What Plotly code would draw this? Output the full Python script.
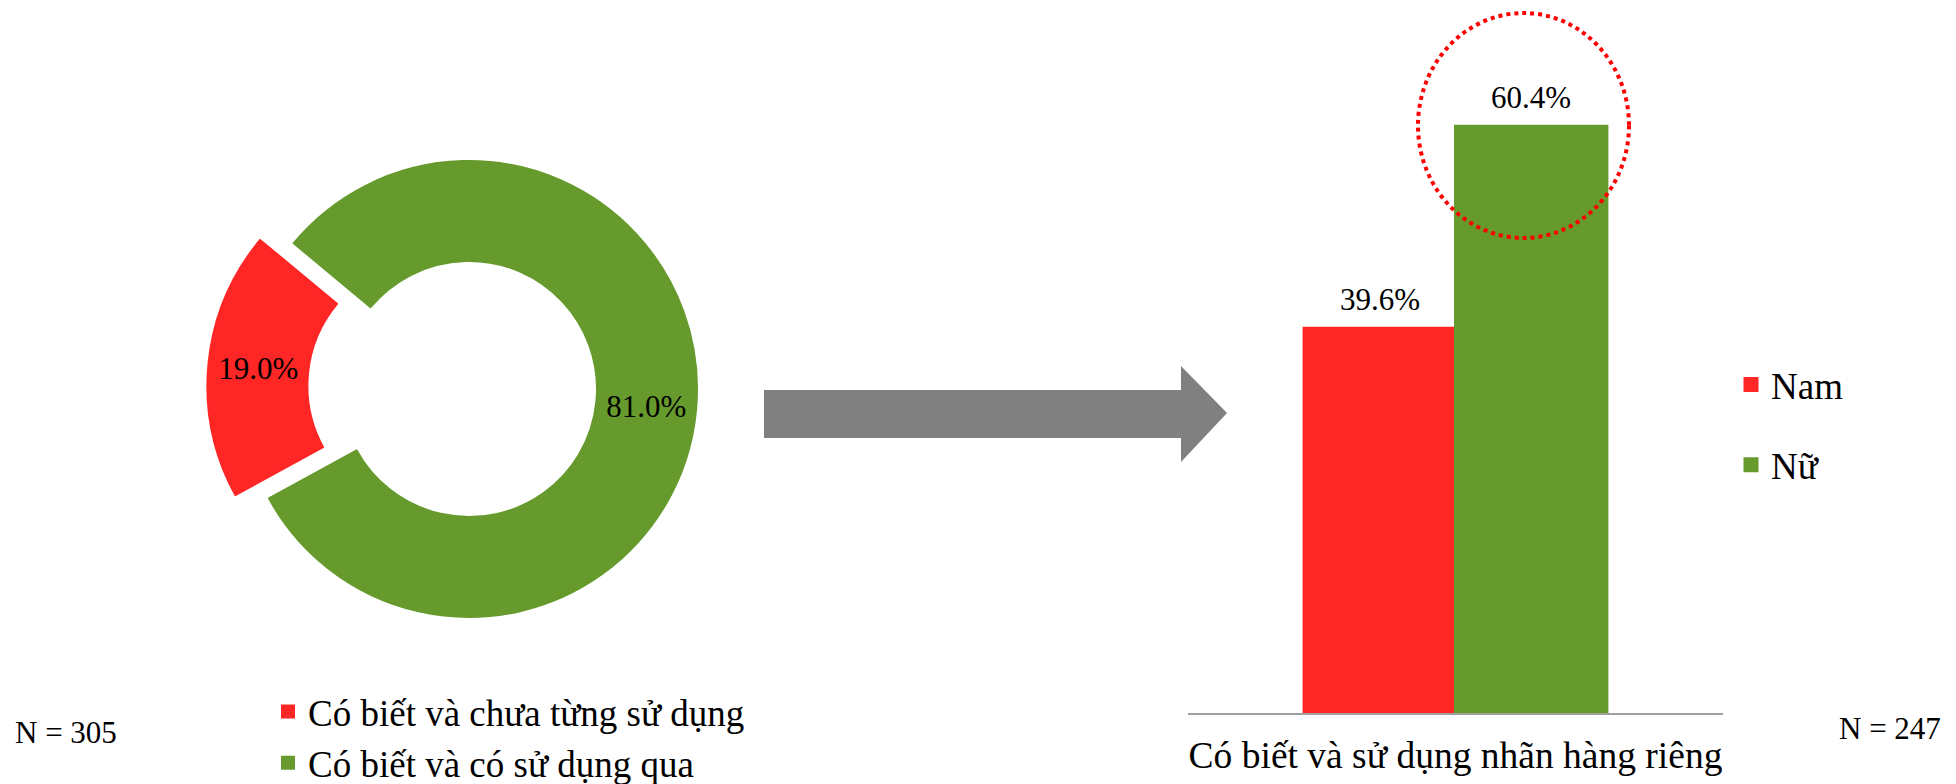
import plotly.graph_objects as go

# ---- data ----
pie_labels = ["Có biết và chưa từng sử dụng", "Có biết và có sử dụng qua"]
pie_values = [19.0, 81.0]
pie_colors = ["#FF2626", "#669A2D"]
pie_pull = [0.148, 0.0]
pie_n = "N = 305"

bar_category = ["Có biết và sử dụng nhãn hàng riêng"]
bar_series = ["Nam", "Nữ"]
bar_values = [[39.6], [60.4]]
bar_colors = ["#FF2626", "#669A2D"]
bar_n = "N = 247"

W, H = 1956, 784
FONT = "Liberation Serif, Times New Roman, serif"
BARGAP = 0.434


def px_x(p):
    return p / W


def px_y(p):
    return 1 - p / H


fig = go.Figure()

# ---- donut ----
cx, cy, R = 469, 389, 228
half = R * (1 + max(pie_pull))
fig.add_trace(go.Pie(
    labels=pie_labels,
    values=pie_values,
    sort=False,
    hole=128 / 228,
    pull=pie_pull,
    rotation=-118.65,
    direction="counterclockwise",
    marker=dict(colors=pie_colors, line=dict(color=pie_colors, width=2)),
    texttemplate="%{percent:.1%}",
    textposition="inside",
    insidetextorientation="horizontal",
    textfont=dict(family=FONT, size=31, color="black"),
    domain=dict(x=[px_x(cx - half), px_x(cx + half)], y=[px_y(cy + half), px_y(cy - half)]),
    legend="legend",
    hoverinfo="label+percent",
))

# ---- bars ----
n_series = len(bar_series)
bar_w = (1 - BARGAP) / n_series
for i, (name, vals, col) in enumerate(zip(bar_series, bar_values, bar_colors)):
    fig.add_trace(go.Bar(
        x=bar_category,
        y=vals,
        name=name,
        marker=dict(color=col, line=dict(color=col, width=3)),
        textposition="none",
        cliponaxis=False,
        legend="legend2",
        legendgroup=name,
    ))
    offset = (i - (n_series - 1) / 2) * bar_w
    for ci, v in enumerate(vals):
        fig.add_annotation(
            x=ci + offset, y=v, xref="x", yref="y",
            text=f"{v:.1f}%", showarrow=False,
            xanchor="center", yanchor="middle", yshift=28.5,
            font=dict(family=FONT, size=31, color="black"),
        )

fig.update_layout(
    width=W, height=H,
    margin=dict(l=0, r=0, t=0, b=0, autoexpand=False),
    paper_bgcolor="white",
    plot_bgcolor="white",
    font=dict(family=FONT, color="black"),
    barmode="group",
    bargap=BARGAP,
    bargroupgap=0,
    xaxis=dict(
        domain=[px_x(1188), px_x(1723)],
        showline=True, linecolor="#A0A0A0", linewidth=2,
        ticks="", showgrid=False, zeroline=False,
        tickfont=dict(family=FONT, size=37.5, color="black"),
        ticklabelstandoff=8,
        automargin=False,
        fixedrange=True,
    ),
    yaxis=dict(
        domain=[px_y(713), px_y(33)],
        range=[0, 70],
        visible=False,
        showgrid=False, zeroline=False,
        fixedrange=True,
    ),
    legend=dict(
        x=px_x(268), y=px_y(681), xanchor="left", yanchor="top",
        font=dict(family=FONT, size=37, color="black"),
        bgcolor="rgba(0,0,0,0)", borderwidth=0,
        orientation="v",
    ),
    legend2=dict(
        x=px_x(1731), y=px_y(354), xanchor="left", yanchor="top",
        font=dict(family=FONT, size=37, color="black"),
        bgcolor="rgba(0,0,0,0)", borderwidth=0,
        orientation="v",
        tracegroupgap=29,
    ),
    showlegend=True,
)

# ---- decorations ----
arrow = (
    f"M {px_x(764)},{px_y(390)} L {px_x(1181)},{px_y(390)} L {px_x(1181)},{px_y(366)} "
    f"L {px_x(1227)},{px_y(413)} L {px_x(1181)},{px_y(462)} L {px_x(1181)},{px_y(438)} "
    f"L {px_x(764)},{px_y(438)} Z"
)
fig.add_shape(type="path", xref="paper", yref="paper", path=arrow,
              fillcolor="#808080", line=dict(width=0), layer="above")

fig.add_shape(type="circle", xref="paper", yref="paper",
              x0=px_x(1418), x1=px_x(1629), y0=px_y(238), y1=px_y(13),
              line=dict(color="#FF0000", width=4, dash="dot"),
              fillcolor="rgba(0,0,0,0)", layer="above")

fig.add_annotation(text=pie_n, xref="paper", yref="paper", x=px_x(66), y=px_y(732),
                   xanchor="center", yanchor="middle", showarrow=False,
                   font=dict(family=FONT, size=31, color="black"))
fig.add_annotation(text=bar_n, xref="paper", yref="paper", x=px_x(1890), y=px_y(728),
                   xanchor="center", yanchor="middle", showarrow=False,
                   font=dict(family=FONT, size=31, color="black"))

fig.write_html("out.html")
